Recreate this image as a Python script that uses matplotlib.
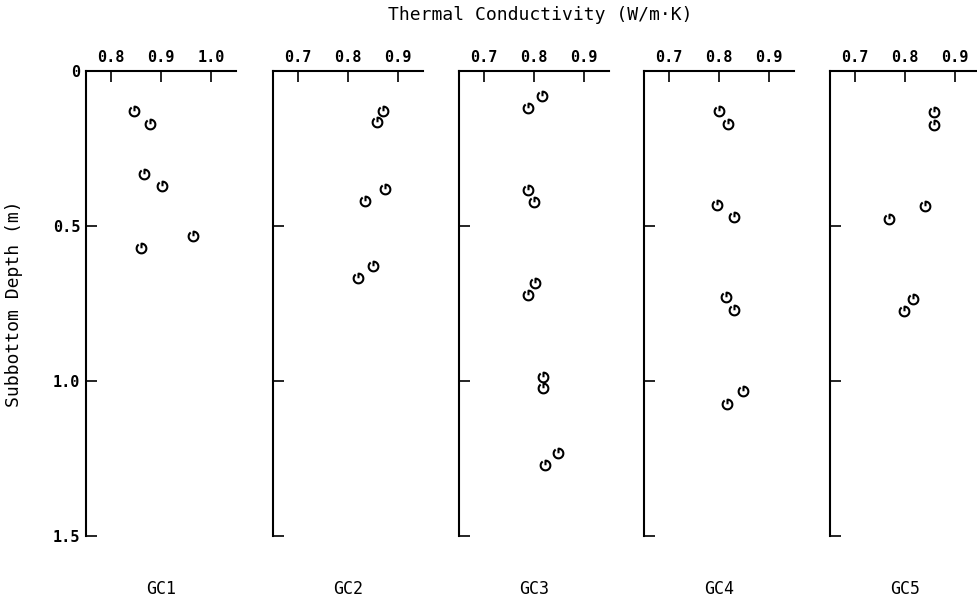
import numpy as np
import matplotlib.pyplot as plt
from matplotlib.path import Path

plt.rcParams['font.family'] = ['DejaVu Sans Mono']

# thermal conductivity (W/m K) and depth (m) per core
cores = ['GC1', 'GC2', 'GC3', 'GC4', 'GC5']
k_gc1 = [0.846, 0.878, 0.866, 0.902, 0.964, 0.860]
z_gc1 = [0.129, 0.171, 0.333, 0.371, 0.532, 0.571]
k_gc2 = [0.869, 0.858, 0.873, 0.834, 0.849, 0.820]
z_gc2 = [0.129, 0.165, 0.381, 0.420, 0.629, 0.668]
k_gc3 = [0.816, 0.788, 0.788, 0.800, 0.802, 0.788, 0.818, 0.818, 0.848, 0.822]
z_gc3 = [0.081, 0.119, 0.384, 0.423, 0.684, 0.723, 0.987, 1.023, 1.232, 1.271]
k_gc4 = [0.800, 0.818, 0.796, 0.830, 0.814, 0.830, 0.848, 0.816]
z_gc4 = [0.129, 0.171, 0.432, 0.471, 0.729, 0.771, 1.032, 1.074]
k_gc5 = [0.858, 0.858, 0.840, 0.768, 0.816, 0.798]
z_gc5 = [0.132, 0.174, 0.435, 0.477, 0.735, 0.774]

k_data = [k_gc1, k_gc2, k_gc3, k_gc4, k_gc5]
z_data = [z_gc1, z_gc2, z_gc3, z_gc4, z_gc5]
x_ticks = [[0.8, 0.9, 1.0], [0.7, 0.8, 0.9], [0.7, 0.8, 0.9], [0.7, 0.8, 0.9], [0.7, 0.8, 0.9]]
x_lims = [(0.75, 1.05), (0.65, 0.95), (0.65, 0.95), (0.65, 0.95), (0.65, 0.95)]
y_ticks = [0, 0.5, 1.0, 1.5]
y_labels = ['0', '0.5', '1.0', '1.5']

# plotter "G" symbol lying on its side: open circle plus a bar down from the top
t = np.deg2rad(np.linspace(125, 450, 40))
verts = np.column_stack([np.cos(t), np.sin(t)])
verts = np.vstack([verts, [[0.0, 0.05]]])
codes = [Path.MOVETO] + [Path.LINETO] * (len(verts) - 1)
gmark = Path(verts, codes)

fig = plt.figure(figsize=(9.77, 6.06), dpi=100, facecolor='white')
lefts = [86, 273, 459, 644, 830]

for i, name in enumerate(cores):
    ax = fig.add_axes([lefts[i] / 977, 1 - 536 / 606, 150 / 977, (536 - 71) / 606])
    ax.plot(k_data[i], z_data[i], linestyle='none', marker=gmark, ms=7,
            color='black', fillstyle='none', markeredgewidth=1.5)
    ax.set_xlim(*x_lims[i])
    ax.set_ylim(1.5, 0)
    ax.spines['right'].set_visible(False)
    ax.spines['bottom'].set_visible(False)
    for s in ('left', 'top'):
        ax.spines[s].set_linewidth(1.5)
    ax.xaxis.tick_top()
    ax.set_xticks(x_ticks[i])
    ax.set_xticklabels([f'{v:.1f}' for v in x_ticks[i]], fontsize=11, fontweight='bold')
    ax.set_yticks(y_ticks)
    if i == 0:
        ax.set_yticklabels(y_labels, fontsize=11, fontweight='bold')
        ax.set_ylabel('Subbottom Depth (m)', fontsize=13, labelpad=22)
    else:
        ax.set_yticklabels([])
    ax.tick_params(axis='both', direction='in', length=8, width=1.2, pad=4)
    ax.text(0.5, -0.115, name, transform=ax.transAxes, ha='center', va='center', fontsize=12)

fig.text(540 / 977, 1 - 15 / 606, 'Thermal Conductivity (W/m\u00b7K)', ha='center', va='center', fontsize=13)
fig.savefig('out.png', dpi=100, facecolor='white')
